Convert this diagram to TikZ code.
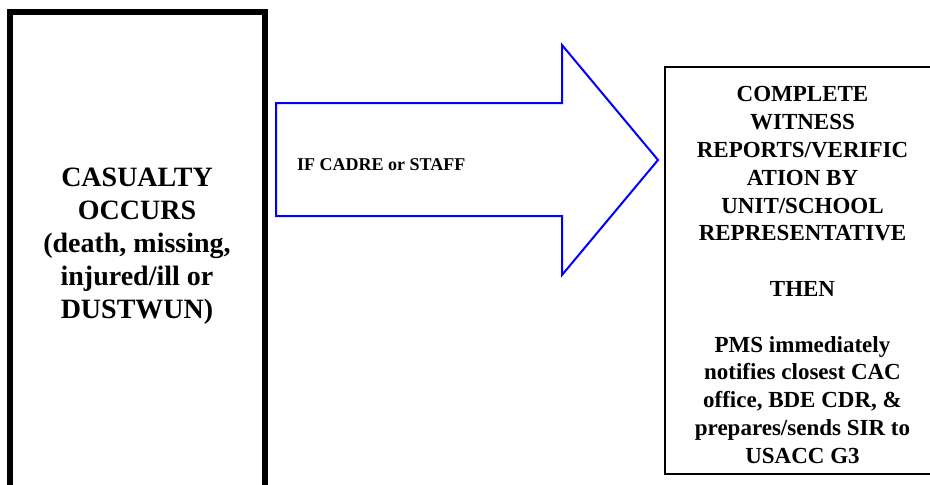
\documentclass[tikz,border=0pt]{standalone}
\usepackage{fontspec}
\setmainfont{Liberation Serif}
\begin{document}
\begin{tikzpicture}[x=1pt,y=1pt,
  bigbox/.style={draw=black,line width=5.5pt,minimum width=255pt,minimum height=508pt,inner sep=0pt},
  sidebox/.style={draw=black,line width=1.6pt,minimum width=275pt,minimum height=407pt,inner sep=0pt},
  flowarrow/.style={draw=blue,line width=2pt,line join=miter},
  lefttext/.style={align=center,font=\fontsize{28}{33}\selectfont\bfseries,inner sep=0pt},
  righttext/.style={align=center,font=\fontsize{23}{27.8}\selectfont\bfseries,inner sep=0pt},
  arrowtext/.style={font=\fontsize{18}{21}\selectfont\bfseries,inner sep=0pt}]
\clip (0,0) rectangle (930,-485);
\useasboundingbox (0,0) rectangle (930,-485);
\fill[white] (0,0) rectangle (930,-485);
% left box
\node[bigbox] (casualty) at (137.5,-266) {};
\node[lefttext] (casualtytext) at (137,-246) {CASUALTY\\OCCURS\\(death, missing,\\injured/ill or\\DUSTWUN)};
% block arrow
\coordinate (a1) at (276,-103);
\coordinate (a2) at (562,-103);
\coordinate (a3) at (562,-45);
\coordinate (tip) at (658,-160);
\coordinate (a5) at (562,-275);
\coordinate (a6) at (562,-216);
\coordinate (a7) at (276,-216);
\draw[flowarrow] (a1) -- (a2) -- (a3) -- (tip) -- (a5) -- (a6) -- (a7) -- cycle;
\node[arrowtext,anchor=base west] (cadre) at (297,-170) {IF CADRE or STAFF};
% right box
\node[sidebox] (witness) at (802.5,-270.5) {};
\node[righttext] (witnesstext) at (802.5,-275) {COMPLETE\\WITNESS\\REPORTS/VERIFIC\\ATION BY\\UNIT/SCHOOL\\REPRESENTATIVE\\[27.8pt]THEN\\[27.8pt]PMS immediately\\notifies closest CAC\\office, BDE CDR, \&\\prepares/sends SIR to\\USACC G3};
\end{tikzpicture}
\end{document}
